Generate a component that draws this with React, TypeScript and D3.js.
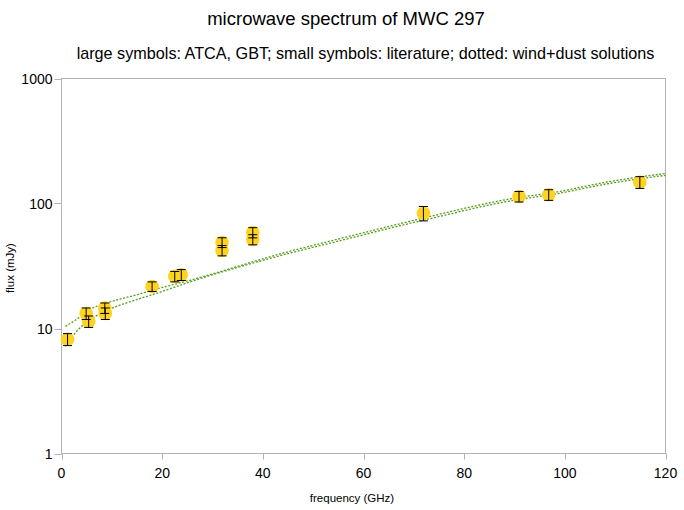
import React from "react";
import * as d3 from "d3";

// Measured fluxes (GHz, mJy) with 1-sigma uncertainties (mJy)
const freq = [1.2, 4.9, 5.4, 8.6, 8.7, 18.0, 22.5, 23.8, 31.9, 31.9, 38.0, 38.0, 71.9, 90.9, 96.8, 114.9];
const flux = [8.2, 13.2, 11.4, 14.6, 13.2, 21.7, 26.1, 26.9, 48.8, 42.1, 58.6, 51.5, 83.6, 113.8, 117.4, 148];
const fluxErr = [0.9, 1.4, 1.2, 1.4, 1.4, 1.9, 2.5, 2.7, 4.4, 4.0, 5.5, 4.8, 11, 11, 11.5, 16];

// Wind + dust model solutions (GHz, mJy)
const modelAFreq = [0.8, 3.2, 5.2, 8.6, 15.1, 18.5, 26.5, 43.4, 55, 67.3, 72.2, 91, 97, 109, 120];
const modelAFlux = [10.4, 12.0, 13.9, 15.8, 18.7, 20.5, 24.9, 39.5, 52, 69, 77, 112, 121, 150, 174];
const modelBFreq = [0.8, 2.6, 5.2, 8.6, 15.1, 18.5, 26.5, 43.4, 55, 67.3, 72.2, 91, 97, 109, 120];
const modelBFlux = [7.2, 9.1, 11.4, 13.7, 17.1, 18.9, 24.3, 38.2, 50, 66.5, 74, 108, 117, 145, 168];

const xTicks = [0, 20, 40, 60, 80, 100, 120];
const yTicks = [1, 10, 100, 1000];

const W = 684;
const H = 510;
const left = 61.5;
const right = 665.5;
const top = 78.5;
const bottom = 453.5;

export default function App() {
  const x = d3.scaleLinear().domain([0, 120]).range([left, right]);
  const y = d3.scaleLog().domain([1, 1000]).range([bottom, top]);

  const line = d3
    .line<[number, number]>()
    .x((d) => x(d[0]))
    .y((d) => y(d[1]))
    .curve(d3.curveMonotoneX);

  const modelA = modelAFreq.map((f, i) => [f, modelAFlux[i]] as [number, number]);
  const modelB = modelBFreq.map((f, i) => [f, modelBFlux[i]] as [number, number]);

  const font = "'Liberation Sans', Arial, sans-serif";
  const frame = "#b3b3b3";

  return (
    <svg
      width={W}
      height={H}
      style={{ position: "absolute", left: 0, top: 0, background: "#fff" }}
      fontFamily={font}
    >
      <text x={346} y={25} textAnchor="middle" fontSize={18.5} fill="#000">
        microwave spectrum of MWC 297
      </text>
      <text x={365.5} y={59} textAnchor="middle" fontSize={16.2} fill="#000">
        large symbols: ATCA, GBT; small symbols: literature; dotted: wind+dust solutions
      </text>

      {/* plot frame */}
      <rect x={left} y={top} width={right - left} height={bottom - top} fill="none" stroke={frame} strokeWidth={1} />

      {yTicks.map((t) => (
        <g key={"y" + t}>
          <line x1={left - 7} x2={left} y1={Math.round(y(t)) + 0.5} y2={Math.round(y(t)) + 0.5} stroke={frame} />
          <text x={left - 9} y={y(t) + 5} textAnchor="end" fontSize={14} fill="#000">
            {t}
          </text>
        </g>
      ))}
      {xTicks.map((t) => (
        <g key={"x" + t}>
          <line x1={Math.round(x(t)) + 0.5} x2={Math.round(x(t)) + 0.5} y1={bottom} y2={bottom + 6} stroke={frame} />
          <text x={x(t)} y={bottom + 24.5} textAnchor="middle" fontSize={14} fill="#000">
            {t}
          </text>
        </g>
      ))}

      <text x={352} y={502} textAnchor="middle" fontSize={11.5} fill="#000">
        frequency (GHz)
      </text>
      <text
        transform={`translate(14,268) rotate(-90)`}
        textAnchor="middle"
        fontSize={11.5}
        fill="#000"
      >
        flux (mJy)
      </text>

      {/* model curves */}
      <path d={line(modelA) ?? ""} fill="none" stroke="#579d1c" strokeWidth={1.3} strokeDasharray="2 1.6" />
      <path d={line(modelB) ?? ""} fill="none" stroke="#579d1c" strokeWidth={1.3} strokeDasharray="2 1.6" />

      {/* markers */}
      {freq.map((f, i) => (
        <circle key={"c" + i} cx={x(f)} cy={y(flux[i])} r={6.8} fill="#ffd320" />
      ))}
      {/* error bars */}
      {freq.map((f, i) => {
        const cx = x(f);
        const y1 = y(flux[i] + fluxErr[i]);
        const y0 = y(flux[i] - fluxErr[i]);
        return (
          <g key={"e" + i} stroke="#000" strokeWidth={1}>
            <line x1={cx} x2={cx} y1={y1} y2={y0} />
            <line x1={cx - 4.5} x2={cx + 4.5} y1={y1} y2={y1} />
            <line x1={cx - 4.5} x2={cx + 4.5} y1={y0} y2={y0} />
          </g>
        );
      })}
    </svg>
  );
}
